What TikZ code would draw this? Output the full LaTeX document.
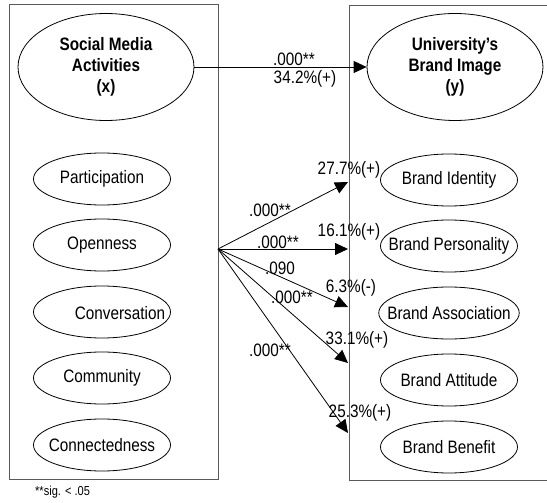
\documentclass[tikz,border=0pt]{standalone}
\usepackage{fontspec}
\setmainfont{Liberation Sans}[FakeStretch=0.85]
\usepackage{tikz}
\usetikzlibrary{arrows.meta,shapes.geometric}

\tikzset{
	bigell/.style={ellipse,draw,line width=0.8pt,inner sep=0pt,minimum width=176pt,minimum height=107pt,align=center,font=\bfseries\fontsize{18}{21}\selectfont},
	smallell/.style={ellipse,draw,line width=0.8pt,inner sep=-12pt,minimum width=137pt,minimum height=52pt,font=\fontsize{18}{21}\selectfont},
	lbl/.style={inner sep=0pt,font=\fontsize{18}{21}\selectfont},
	link/.style={line width=0.8pt,-{Triangle[length=13pt,width=12pt]}},
	frame/.style={draw=black!65,line width=1pt}
}

\begin{document}
\begin{tikzpicture}[x=1pt,y=-1pt]
	\useasboundingbox (0,0) rectangle (547,503);

	%the two boxes
	\draw[frame](9,5) -- (218,5) -- (218,479) -- (9,479) -- cycle;
	\draw[frame](560,6) -- (349,6) -- (349,480) -- (560,480);

	%social media side
	\node[bigell] (soc) at (106,67) {Social Media\\Activities\\(x)};
	\node[smallell] (part) at (102,179) {Participation};
	\node[smallell] (open) at (102,245) {Openness};
	\node[smallell] (conv) at (102,312) {};
	\node[lbl] (convtext) at (120,313) {Conversation};
	\node[smallell] (comm) at (102,378) {Community};
	\node[smallell] (conn) at (102,445) {Connectedness};
	\node[anchor=west,inner sep=0pt,font=\fontsize{13}{15}\selectfont] (note) at (35,492) {**sig. < .05};

	%brand image side
	\node[bigell] (univ) at (455,67) {University’s\\Brand Image\\(y)};
	\node[smallell] (ident) at (449,180) {Brand Identity};
	\node[smallell] (pers) at (449,246) {Brand Personality};
	\node[smallell] (assoc) at (449,313) {Brand Association};
	\node[smallell] (att) at (449,380) {Brand Attitude};
	\node[smallell] (ben) at (449,447) {Brand Benefit};

	%main path
	\draw[link] (soc.east) -- (univ.west);
	\node[lbl] (psig) at (294,59) {.000**};
	\node[lbl] (pval) at (305,79) {34.2\%(+)};

	%fan out of the box
	\coordinate (fan) at (218,249);
	\foreach \i/\ty in {1/182,2/249,3/307,4/363,5/433}
		{
		\coordinate (tip\i) at (348,\ty);
		\draw[link] (fan) -- (tip\i);
		}
	\node[lbl] (s1) at (270,210) {.000**};
	\node[lbl] (s2) at (278,242) {.000**};
	\node[lbl] (s3) at (280,268) {.090};
	\node[lbl] (s4) at (292,297) {.000**};
	\node[lbl] (s5) at (270,350) {.000**};
	\node[lbl] (r1) at (349,170) {27.7\%(+)};
	\node[lbl] (r2) at (349,232) {16.1\%(+)};
	\node[lbl] (r3) at (351,288) {6.3\%(-)};
	\node[lbl] (r4) at (357,340) {33.1\%(+)};
	\node[lbl] (r5) at (360,413) {25.3\%(+)};
\end{tikzpicture}
\end{document}
